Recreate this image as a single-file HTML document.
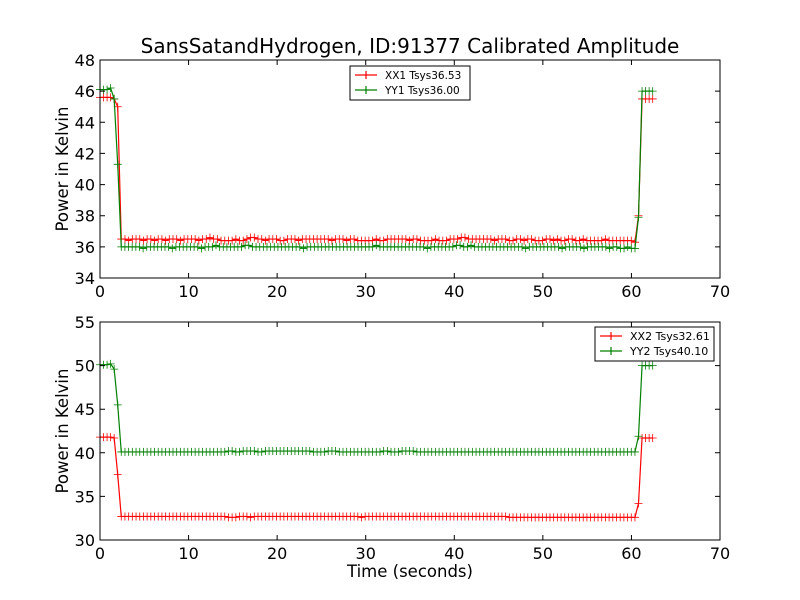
<!DOCTYPE html>
<html><head><meta charset="utf-8"><style>
body{margin:0;background:#fff;}
svg{display:block;font-family:"DejaVu Sans","Liberation Sans",sans-serif;}
</style></head><body>
<svg id="chart" width="800" height="600" viewBox="0 0 800 600" xmlns="http://www.w3.org/2000/svg">
<rect width="800" height="600" fill="#fff"/>
<text x="410" y="53" font-size="20" text-anchor="middle">SansSatandHydrogen, ID:91377 Calibrated Amplitude</text>
<g id="g1"></g>
<g id="g2"></g>
<text x="410" y="577" font-size="16.5" text-anchor="middle">Time (seconds)</text>
</svg>
<script>
const dt = 0.4;
const tStart = 2.4;
const tEnd = 60.4;
const xx1 = [45.6,45.6,45.6,45.6,45.5,45.0,
36.5,36.5,36.4,36.5,36.5,36.5,36.4,36.5,36.5,36.4,36.5,36.5,36.4,36.5,36.5,36.5,36.4,36.5,36.5,36.5,36.5,36.4,36.5,36.5,36.6,36.5,36.5,36.4,36.4,36.4,36.4,36.5,36.4,36.4,36.5,36.6,36.6,36.5,36.5,36.4,36.5,36.5,36.5,36.4,36.4,36.5,36.5,36.5,36.4,36.5,36.5,36.5,36.5,36.5,36.5,36.5,36.5,36.4,36.5,36.5,36.5,36.4,36.5,36.5,36.4,36.4,36.4,36.4,36.4,36.5,36.4,36.4,36.5,36.5,36.5,36.5,36.5,36.5,36.4,36.5,36.5,36.4,36.4,36.4,36.4,36.5,36.4,36.4,36.4,36.5,36.5,36.5,36.6,36.6,36.5,36.5,36.5,36.5,36.5,36.5,36.5,36.4,36.5,36.5,36.5,36.4,36.4,36.5,36.5,36.4,36.5,36.5,36.4,36.4,36.4,36.5,36.5,36.4,36.5,36.4,36.4,36.5,36.5,36.4,36.4,36.5,36.4,36.4,36.4,36.4,36.4,36.5,36.4,36.4,36.4,36.4,36.4,36.4,36.4,36.3,
38.0,45.5,45.5,45.5,45.5];
const yy1 = [46.1,46.1,46.1,46.2,45.5,41.3,
36.0,36.0,36.0,36.0,36.0,36.0,35.9,36.0,36.0,36.0,36.0,36.0,36.0,36.0,35.9,36.0,36.0,36.0,36.0,36.0,36.0,36.0,35.9,36.0,36.0,36.0,36.1,36.0,36.0,36.0,36.0,36.0,36.0,36.0,36.1,36.1,36.0,36.0,36.0,36.0,36.0,36.0,36.0,36.0,36.0,36.0,36.0,36.0,36.0,36.0,35.9,36.0,36.0,36.0,36.0,36.0,36.0,36.0,36.0,36.0,36.0,36.0,36.0,36.0,36.0,36.0,36.0,36.0,36.0,36.0,36.1,36.0,36.0,36.0,36.0,36.0,36.0,36.0,36.0,36.0,36.0,36.0,36.0,36.0,35.9,36.0,36.0,36.0,36.0,36.0,36.0,36.0,36.1,36.1,36.0,36.0,36.1,36.0,36.0,36.0,36.0,36.0,36.0,36.0,36.0,36.0,36.0,36.0,36.0,36.0,36.0,35.9,36.0,36.0,36.0,36.0,36.0,36.0,36.0,36.0,36.0,35.9,36.0,36.0,36.0,36.0,36.0,35.9,36.0,36.0,36.0,36.0,36.0,36.0,35.9,36.0,36.0,35.9,35.9,36.0,35.9,35.9,
37.9,46.0,46.0,46.0,46.0];
const xx2 = [41.8,41.8,41.8,41.8,41.7,37.5,
32.7,32.7,32.7,32.7,32.7,32.7,32.7,32.7,32.7,32.7,32.7,32.7,32.7,32.7,32.7,32.7,32.7,32.7,32.7,32.7,32.7,32.7,32.7,32.7,32.7,32.7,32.7,32.7,32.7,32.6,32.6,32.6,32.7,32.7,32.7,32.6,32.7,32.7,32.7,32.7,32.7,32.7,32.7,32.7,32.7,32.7,32.7,32.7,32.7,32.7,32.7,32.7,32.7,32.7,32.7,32.7,32.7,32.7,32.7,32.7,32.7,32.7,32.7,32.7,32.7,32.6,32.7,32.7,32.7,32.7,32.7,32.7,32.7,32.7,32.7,32.7,32.7,32.7,32.7,32.7,32.7,32.7,32.7,32.7,32.7,32.7,32.7,32.7,32.7,32.7,32.7,32.7,32.7,32.7,32.7,32.7,32.7,32.7,32.7,32.7,32.7,32.7,32.7,32.7,32.7,32.6,32.6,32.6,32.6,32.6,32.6,32.6,32.6,32.6,32.6,32.6,32.6,32.6,32.6,32.6,32.6,32.6,32.6,32.6,32.6,32.6,32.6,32.6,32.6,32.6,32.6,32.6,32.6,32.6,32.6,32.6,32.6,32.6,32.6,32.6,
34.2,41.7,41.7,41.7,41.7];
const yy2 = [50.1,50.1,50.1,50.2,49.6,45.5,
40.1,40.1,40.1,40.1,40.1,40.1,40.1,40.1,40.1,40.1,40.1,40.1,40.1,40.1,40.1,40.1,40.1,40.1,40.1,40.1,40.1,40.1,40.1,40.1,40.1,40.1,40.1,40.1,40.1,40.2,40.2,40.1,40.1,40.2,40.2,40.2,40.2,40.1,40.1,40.2,40.2,40.2,40.2,40.2,40.2,40.2,40.2,40.2,40.2,40.2,40.2,40.2,40.1,40.1,40.1,40.1,40.2,40.2,40.2,40.1,40.1,40.1,40.1,40.1,40.1,40.1,40.1,40.1,40.1,40.1,40.1,40.2,40.2,40.1,40.1,40.1,40.2,40.2,40.2,40.2,40.1,40.1,40.1,40.1,40.1,40.1,40.1,40.1,40.1,40.1,40.1,40.1,40.1,40.1,40.1,40.1,40.1,40.1,40.1,40.1,40.1,40.1,40.1,40.1,40.1,40.1,40.1,40.1,40.1,40.1,40.1,40.1,40.1,40.1,40.1,40.1,40.1,40.1,40.1,40.1,40.1,40.1,40.1,40.1,40.1,40.1,40.1,40.1,40.1,40.1,40.1,40.1,40.1,40.1,40.1,40.1,40.1,40.1,40.1,40.1,
41.9,50.0,50.0,50.0,50.0];
const xTicks = [0,10,20,30,40,50,60,70];
const yTicksTop = [34,36,38,40,42,44,46,48];
const yTicksBot = [30,35,40,45,50,55];
const legendTop = ["XX1 Tsys36.53","YY1 Tsys36.00"];
const legendBot = ["XX2 Tsys32.61","YY2 Tsys40.10"];

const NS="http://www.w3.org/2000/svg";
function mk(parent,tag,attrs){const e=document.createElementNS(NS,tag);for(const k in attrs)e.setAttribute(k,attrs[k]);parent.appendChild(e);return e;}
function timeAt(i,n){
  if(i<6) return i*dt;
  if(i>=n-5) return tEnd+dt+(i-(n-5))*dt;
  const nm=n-11;
  return tStart+(i-6)*(tEnd-tStart)/(nm-1);
}

function panel(g,top,bottom,ymin,ymax,yTicks,series,colors,legend,leg){
  const L=100,R=720;
  const xs=v=>L+(v-0)/(70-0)*(R-L);
  const ys=v=>bottom-(v-ymin)/(ymax-ymin)*(bottom-top);
  series.forEach((s,si)=>{
    const n=s.length;
    let d="";
    s.forEach((v,i)=>{d+=(i?"L":"M")+xs(timeAt(i,n)).toFixed(2)+","+ys(v).toFixed(2);});
    const p=mk(g,"path",{d:d,fill:"none",stroke:colors[si],"stroke-width":1.2});
    
    
    let m="";
    s.forEach((v,i)=>{const x=xs(timeAt(i,n)),y=ys(v);m+="M"+(x-4)+","+y+"h8M"+x+","+(y-4)+"v8";});
    const mp=mk(g,"path",{d:m,fill:"none",stroke:colors[si],"stroke-width":0.8});
    
    
  });
  const fr=mk(g,"rect",{x:L,y:top,width:R-L,height:bottom-top,fill:"none",stroke:"#000","stroke-width":1});
  
  
  xTicks.forEach(t=>{
    const x=xs(t);
    mk(g,"path",{d:`M${x},${bottom}v-5M${x},${top}v5`,stroke:"#000"});
    const tx=mk(g,"text",{x:x,y:bottom+19,"font-size":16,"text-anchor":"middle"});
    tx.textContent=t;
    
    
  });
  yTicks.forEach(t=>{
    const y=ys(t);
    mk(g,"path",{d:`M${L},${y}h5M${R},${y}h-5`,stroke:"#000"});
    const tx=mk(g,"text",{x:L-5,y:y+6,"font-size":16,"text-anchor":"end"});
    tx.textContent=t;
    
    
  });
  const yl=mk(g,"text",{x:0,y:0,"font-size":16.5,"text-anchor":"middle",transform:`translate(68,${(top+bottom)/2}) rotate(-90)`});
  yl.textContent="Power in Kelvin";
  
  
  const lg=mk(g,"g",{});
  
  
  mk(lg,"rect",{x:leg.x,y:leg.y,width:leg.w,height:34,fill:"#fff",stroke:"#000","stroke-width":1});
  legend.forEach((lab,i)=>{
    const y=leg.y+9+i*15;
    mk(lg,"path",{d:`M${leg.x+5},${y}h22M${leg.x+16},${y-4}v8`,stroke:colors[i],"stroke-width":1.2});
    const tx=mk(lg,"text",{x:leg.x+35,y:y+4,"font-size":leg.fs});
    tx.textContent=lab;
    
    
  });
}
panel(document.getElementById('g1'),60,278,34,48,yTicksTop,[xx1,yy1],["#ff0000","#008000"],legendTop,{x:350,y:66,w:120,fs:10.5});
panel(document.getElementById('g2'),322,540,30,55,yTicksBot,[xx2,yy2],["#ff0000","#008000"],legendBot,{x:595,y:327,w:119,fs:11});
</script>
</body></html>
